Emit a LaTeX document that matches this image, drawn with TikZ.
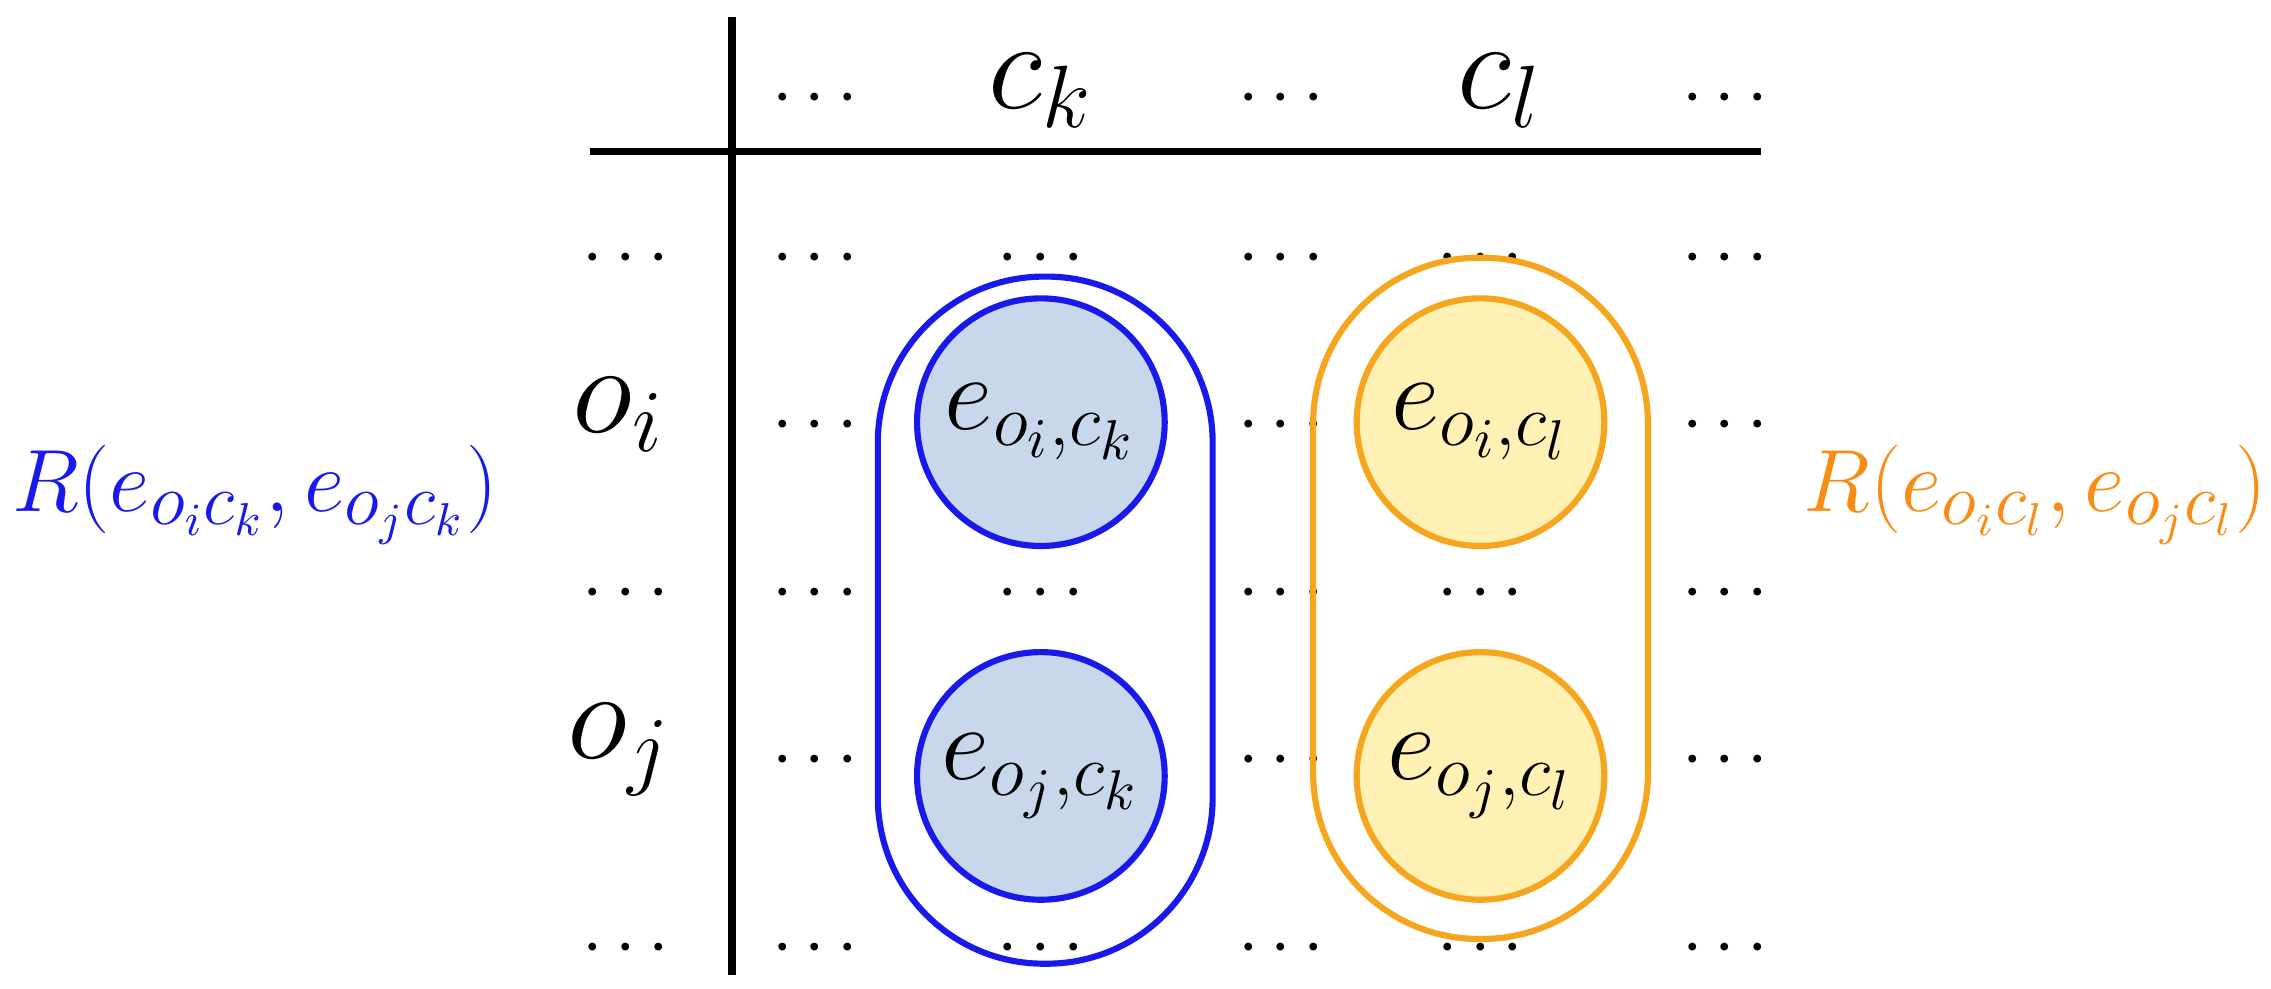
\documentclass[tikz,border=0pt]{standalone}
\definecolor{bline}{RGB}{25,25,235}
\definecolor{bfill}{RGB}{200,215,235}
\definecolor{oline}{RGB}{245,165,30}
\definecolor{ofill}{RGB}{255,240,180}
\definecolor{otext}{RGB}{250,140,20}
\begin{document}
\begin{tikzpicture}[x=0.01cm,y=-0.01cm,
 t/.style={font=\fontsize{24}{28}\selectfont,inner sep=0pt},
 d/.style={font=\fontsize{14}{16}\selectfont,inner sep=0pt},
 bc/.style={circle,draw=bline,line width=1.2pt,fill=bfill,minimum size=1.7cm,inner sep=0pt,font=\fontsize{21}{24}\selectfont},
 oc/.style={circle,draw=oline,line width=1.2pt,fill=ofill,minimum size=1.7cm,inner sep=0pt,font=\fontsize{21}{24}\selectfont}]
\useasboundingbox (0,0) rectangle (1560,679);
\draw[line width=1.5pt] (503,12) coordinate (v1) -- (503,670) coordinate (v2);
\draw[line width=1.5pt] (405,104) coordinate (h1) -- (1210,104) coordinate (h2);
% header
\node[d] (h1d) at (560,68) {$\cdots$};
\node[t] (hck) at (715,62) {$c_k$};
\node[d] (h2d) at (880,68) {$\cdots$};
\node[t] (hcl) at (1030,62) {$c_l$};
\node[d] (h3d) at (1185,68) {$\cdots$};
% row labels
\node[d] (r1) at (430,178) {$\cdots$};
\node[t] (oi) at (425,285) {$o_i$};
\node[d] (r3) at (430,408) {$\cdots$};
\node[t] (oj) at (425,515) {$o_j$};
\node[d] (r5) at (430,652) {$\cdots$};
% grid dots
\foreach \y [count=\r] in {178,293,408,523,652}{
 \foreach \x [count=\c] in {560,715,880,1017,1185}{
  \node[d] (g\r\c) at (\x,\y) {$\cdots$};
 }
}
% stadiums
\draw[bline,line width=1.2pt,rounded corners=1.14cm] (603,190) rectangle (833,662);
\draw[oline,line width=1.2pt,rounded corners=1.14cm] (902,177) rectangle (1132,645);
% circles
\node[bc] (eik) at (715,290) {$e_{o_i,c_k}$};
\node[bc] (ejk) at (715,533) {$e_{o_j,c_k}$};
\node[oc] (eil) at (1017,290) {$e_{o_i,c_l}$};
\node[oc] (ejl) at (1017,533) {$e_{o_j,c_l}$};
% side labels
\node[font=\fontsize{19}{23}\selectfont,text=bline,inner sep=0pt] (Rl) at (175,340) {$R(e_{o_ic_k},e_{o_jc_k})$};
\node[font=\fontsize{19}{23}\selectfont,text=otext,inner sep=0pt] (Rr) at (1398,340) {$R(e_{o_ic_l},e_{o_jc_l})$};
\end{tikzpicture}
\end{document}
